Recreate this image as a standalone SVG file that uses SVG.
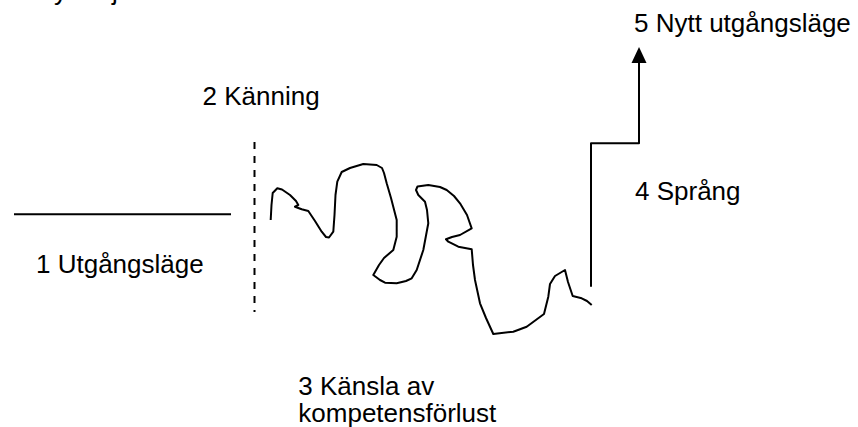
<svg xmlns="http://www.w3.org/2000/svg" width="858" height="427" viewBox="0 0 858 427">
<defs>
<style>
.ln{fill:none;stroke:#000;stroke-width:2;stroke-linejoin:round;stroke-linecap:butt}
.dash{fill:none;stroke:#000;stroke-width:2;stroke-dasharray:7 7}
.lbl{font-family:"Liberation Sans",Arial,sans-serif;font-size:26px;fill:#000}
</style>
</defs>
<rect width="858" height="427" fill="#fff"/>
<g id="clipped-title">
<text class="lbl" x="54" y="-0.5">y</text>
<text class="lbl" x="112" y="-0.5">j</text>
</g>
<g id="connectors">
<line id="baseline-line" class="ln" x1="14" y1="214.3" x2="231" y2="214.3"/>
<line id="kanning-dash" class="dash" x1="254.5" y1="142" x2="254.5" y2="312"/>
<polyline id="kompetens-curve" class="ln" points="270.7,220 271.5,205 272.7,193 277.3,188.3 282,189.5 290,195 296,201 298.3,205 295,206.7 301.7,209.3 308.3,211 315,221 321.7,231.7 326,237 329,237.5 333.3,231.7 334.5,215 335.5,195 337.3,181.7 341.7,172 350,168 363.3,164 376.7,165 382,168 384,173 386.7,183.3 391,198 396.7,220 396.7,236.7 393.3,250 384,258 379,265 373.3,275 380,280 385,282.7 396.7,283.3 406,281 411.7,278.3 416.7,270 423.3,250 428.3,223.3 427,210 425,201.7 418.3,195 416,190 417.5,186.5 428.3,185 440,187 446.7,190 454,196 460,203.3 467,215 471.7,228.3 460,235 452,237 446,239.3 448.3,241.7 458.3,246.7 471.7,249.3 473,265 475,280 480,303.3 486,318 493.3,334 513.3,331.7 526.7,326.7 544,314 548.3,296.7 550,284 555,276 565,270 568,282 572.7,296 581.7,298.3 587,301 591.7,305"/>
<polyline id="sprang-step" class="ln" points="591,286.7 591,143.3 639,143.3 639,62"/>
<polygon id="arrowhead" points="639,47 631.5,63 646.5,63" fill="#000"/>
</g>
<g id="node-1"><text class="lbl" x="36" y="273.3">1 Utgångsläge</text></g>
<g id="node-2"><text class="lbl" x="202.5" y="105">2 Känning</text></g>
<g id="node-3"><text class="lbl" x="298.3" y="395">3 Känsla av</text><text class="lbl" x="298.3" y="421.5">kompetensförlust</text></g>
<g id="node-4"><text class="lbl" x="635" y="200">4 Språng</text></g>
<g id="node-5"><text class="lbl" x="634" y="31.7">5 Nytt utgångsläge</text></g>
</svg>
